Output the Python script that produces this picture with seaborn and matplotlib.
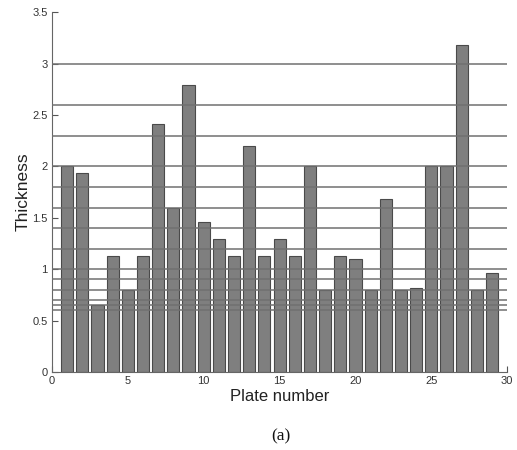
import matplotlib
matplotlib.use("Agg")
import matplotlib.pyplot as plt
import seaborn as sns
import pandas as pd

plates = list(range(1, 30))
thickness = [2.0, 1.94, 0.65, 1.125, 0.8, 1.125, 2.41, 1.6, 2.79, 1.455,
             1.29, 1.125, 2.2, 1.125, 1.29, 1.125, 2.0, 0.8, 1.125, 1.1,
             0.8, 1.68, 0.8, 0.82, 2.0, 2.0, 3.18, 0.8, 0.96]
standard_levels = [0.6, 0.65, 0.7, 0.8, 0.9, 1.0, 1.2, 1.4, 1.6, 1.8,
                   2.0, 2.3, 2.6, 3.0]
xticks = [0, 5, 10, 15, 20, 25, 30]
yticks = [0, 0.5, 1, 1.5, 2, 2.5, 3, 3.5]
ytick_labels = ["0", "0.5", "1", "1.5", "2", "2.5", "3", "3.5"]

sns.set_style("white")
plt.rcParams['font.family'] = ['Liberation Sans', 'DejaVu Sans']

df = pd.DataFrame({"Plate": plates, "Thickness": thickness})

fig = plt.figure(figsize=(5.17, 4.5), dpi=100)
ax = fig.add_axes([0.1006, 0.1733, 0.8804, 0.7997])

sns.barplot(data=df, x="Plate", y="Thickness", native_scale=True, width=0.8,
            color="#7f7f7f", saturation=1, edgecolor="#4a4a4a", linewidth=0.8,
            ax=ax, zorder=2)
for lv in standard_levels:
    ax.axhline(lv, color="#707070", lw=1.1, zorder=3)

ax.set_xlim(0, 30)
ax.set_ylim(0, 3.5)
ax.set_xticks(xticks)
ax.set_xticklabels([str(t) for t in xticks])
ax.set_yticks(yticks)
ax.set_yticklabels(ytick_labels)
ax.tick_params(direction="in", length=4, width=0.8, colors="#555555",
               labelsize=8, labelcolor="#333333", pad=3)
ax.tick_params(axis="x", bottom=True)
ax.tick_params(axis="y", left=True)
for s in ["top", "right"]:
    ax.spines[s].set_visible(False)
for s in ["left", "bottom"]:
    ax.spines[s].set_color("#666666")
    ax.spines[s].set_linewidth(0.8)

ax.set_xlabel("Plate number", fontsize=12, color="#222222", labelpad=2)
ax.set_ylabel("Thickness", fontsize=12.5, color="#222222", labelpad=1)

fig.text(0.543, 0.031, "(a)", ha="center", va="center", fontsize=12.5,
         family=["Liberation Serif", "DejaVu Serif"], color="#111111")

fig.savefig("out.png", dpi=100)
